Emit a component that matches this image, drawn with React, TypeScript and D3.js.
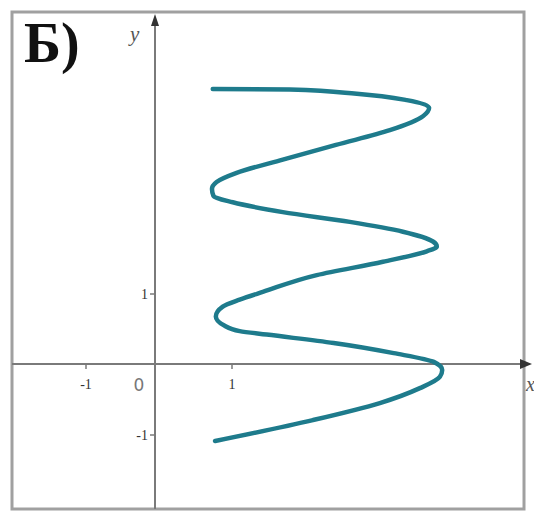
import React from "react";
import * as d3 from "d3";

// points of the curve (data units)
const curveX = [0.78, 2.05, 2.92, 3.44, 3.7, 3.73, 3.62, 3.1, 2.32, 1.45, 1.1, 0.9, 0.79, 0.88, 1.1, 1.4, 2.1, 2.96, 3.53, 3.66, 3.61, 3.22, 2.53, 1.66, 1.01, 0.76, 0.74, 0.8, 1.06, 1.66, 2.35, 3.05, 3.48, 3.56, 3.27, 2.62, 1.75, 0.75];
const curveY = [-1.085, -0.79, -0.55, -0.34, -0.18, -0.085, 0.03, 0.155, 0.3, 0.42, 0.47, 0.55, 0.68, 0.82, 0.92, 1.03, 1.27, 1.46, 1.61, 1.68, 1.75, 1.89, 2.03, 2.17, 2.31, 2.4, 2.5, 2.6, 2.73, 2.92, 3.13, 3.34, 3.54, 3.66, 3.77, 3.86, 3.92, 3.93];

const xTicks = [-1, 1];
const yTicks = [1, -1];

export default function App() {
  const W = 534;
  const H = 512;

  const x = d3.scaleLinear().domain([-1, 0, 1]).range([86, 155, 232]);
  const y = d3.scaleLinear().domain([-1, 0, 1]).range([435, 364, 294]);

  const pts: [number, number][] = curveX.map((v, i) => [v, curveY[i]]);
  // y only grows along the curve, so x is interpolated as a function of y
  const line = d3
    .line<[number, number]>()
    .x((d) => x(d[0]))
    .y((d) => y(d[1]))
    .curve(d3.curveMonotoneY);

  const x0 = x(0);
  const y0 = y(0);
  const axisColor = "#7a7a7a";

  return (
    <svg
      width={W}
      height={H}
      style={{ position: "absolute", left: 0, top: 0, background: "#fff" }}
    >
      <rect x={12} y={12} width={512} height={497} fill="#fff" stroke="#a0a0a0" strokeWidth={3} />

      {/* axes */}
      <line x1={12} x2={522} y1={y0} y2={y0} stroke={axisColor} strokeWidth={2} />
      <path d={`M532,${y0} L520,${y0 - 5} L520,${y0 + 5} Z`} fill="#333" />
      <line x1={x0} x2={x0} y1={509} y2={22} stroke={axisColor} strokeWidth={2} />
      <path d={`M${x0},14 L${x0 - 4},26 L${x0 + 4},26 Z`} fill="#333" />

      {xTicks.map((t) => (
        <g key={"x" + t}>
          <line x1={x(t)} x2={x(t)} y1={y0} y2={y0 + 5} stroke={axisColor} strokeWidth={1.5} />
          <text
            x={x(t)}
            y={y0 + 25}
            textAnchor="middle"
            fontFamily="Liberation Serif, serif"
            fontSize={14}
            fill="#333"
          >
            {t < 0 ? "-" + Math.abs(t) : t}
          </text>
        </g>
      ))}
      <text x={139} y={y0 + 27} textAnchor="middle" fontFamily="DejaVu Sans, sans-serif" fontSize={17} fill="#777">
        0
      </text>
      {yTicks.map((t) => (
        <g key={"y" + t}>
          <line x1={x0 - 5} x2={x0} y1={y(t)} y2={y(t)} stroke={axisColor} strokeWidth={1.5} />
          <text
            x={x0 - 7}
            y={y(t) + 5}
            textAnchor="end"
            fontFamily="Liberation Serif, serif"
            fontSize={14}
            fill="#333"
          >
            {t < 0 ? "-" + Math.abs(t) : t}
          </text>
        </g>
      ))}
      <text x={130} y={41} fontFamily="Liberation Serif, serif" fontStyle="italic" fontSize={21} fill="#555">
        y
      </text>
      <text x={526} y={391} fontFamily="Liberation Serif, serif" fontStyle="italic" fontSize={20} fill="#555">
        x
      </text>

      <path d={line(pts) || ""} fill="none" stroke="#1e7b8c" strokeWidth={4.5} strokeLinecap="round" strokeLinejoin="round" />

      <text x={24} y={62} fontFamily="Liberation Serif, serif" fontWeight="bold" fontSize={56} fill="#111">
        Б)
      </text>
    </svg>
  );
}
